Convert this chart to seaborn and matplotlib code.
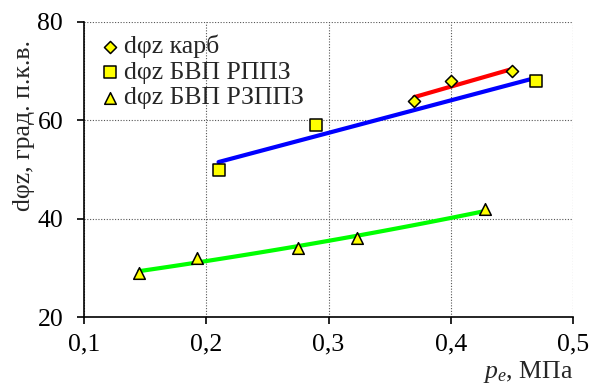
import numpy as np
import pandas as pd
import matplotlib
matplotlib.use("Agg")
import matplotlib.pyplot as plt
from matplotlib.ticker import FuncFormatter
import seaborn as sns

# ==========================================
# data
# ==========================================
karb_x = [0.37, 0.40, 0.45]
karb_y = [64, 68, 70]

rppz_x = [0.21, 0.29, 0.47]
rppz_y = [50, 59, 68]

rzppz_x = [0.145, 0.192, 0.275, 0.323, 0.428]
rzppz_y = [29, 32, 34, 36, 42]

LABELS = ["dφz карб", "dφz БВП РППЗ", "dφz БВП РЗППЗ"]
FS = 18.5

sns.set_style("ticks")
plt.rcParams["font.family"] = ["Liberation Serif", "DejaVu Serif"]
plt.rcParams["mathtext.fontset"] = "custom"
plt.rcParams["mathtext.it"] = "Liberation Serif:italic"
plt.rcParams["mathtext.rm"] = "Liberation Serif"

fig = plt.figure(figsize=(5.92, 3.92), dpi=100)
ax = fig.add_axes([0.142, 0.191, 0.826, 0.753])


def linear_trend(x, y):
    k, b = np.polyfit(x, y, 1)
    xs = np.linspace(min(x), max(x), 50)
    return pd.DataFrame({"x": xs, "y": k * xs + b})


def exp_trend(x, y):
    b, ln_a = np.polyfit(x, np.log(y), 1)
    xs = np.linspace(min(x), max(x), 100)
    return pd.DataFrame({"x": xs, "y": np.exp(ln_a) * np.exp(b * xs)})


# trend lines
sns.lineplot(data=linear_trend(karb_x, karb_y), x="x", y="y", ax=ax,
             color="#ff0000", linewidth=3, zorder=2)
sns.lineplot(data=linear_trend(rppz_x, rppz_y), x="x", y="y", ax=ax,
             color="#0000ff", linewidth=3, zorder=2)
sns.lineplot(data=exp_trend(rzppz_x, rzppz_y), x="x", y="y", ax=ax,
             color="#00ff00", linewidth=3, zorder=2)

# points
sns.scatterplot(x=karb_x, y=karb_y, ax=ax, marker="D", s=38, color="#ffff00",
                edgecolor="black", linewidth=1.1, label=LABELS[0], zorder=3)
sns.scatterplot(x=rppz_x, y=rppz_y, ax=ax, marker="s", s=70, color="#ffff00",
                edgecolor="black", linewidth=1.1, label=LABELS[1], zorder=3)
sns.scatterplot(x=rzppz_x, y=rzppz_y, ax=ax, marker="^", s=70, color="#ffff00",
                edgecolor="black", linewidth=1.1, label=LABELS[2], zorder=3)

ax.set_xlim(0.1, 0.5)
ax.set_ylim(20, 80)
ax.set_xticks([0.1, 0.2, 0.3, 0.4, 0.5])
ax.set_yticks([20, 40, 60, 80])
ax.xaxis.set_major_formatter(FuncFormatter(lambda v, p: f"{v:.1f}".replace(".", ",")))
ax.tick_params(axis="both", direction="out", length=5, width=1.2,
               labelsize=FS, colors="black")
ax.tick_params(axis="x", pad=7)
ax.tick_params(axis="y", pad=10)

ax.grid(True, linestyle=(0, (1, 1.5)), color="#555555", linewidth=0.8)
ax.set_axisbelow(True)
for side in ["top", "right"]:
    ax.spines[side].set_visible(False)
for side in ["left", "bottom"]:
    ax.spines[side].set_linewidth(1.2)
    ax.spines[side].set_color("black")

ax.set_ylabel("dφz, град. п.к.в.", fontsize=FS)
ax.yaxis.set_label_coords(-0.1, 0.65)
ax.set_xlabel("$p_e$, МПа", fontsize=FS, loc="right", labelpad=2)

ax.legend(loc="upper left", bbox_to_anchor=(0.0, 1.0), frameon=False,
          fontsize=FS, handletextpad=0.05, labelspacing=0.1,
          borderaxespad=0.3, handlelength=1.0, borderpad=0.2)

fig.savefig("out.png", dpi=100)
plt.close(fig)
